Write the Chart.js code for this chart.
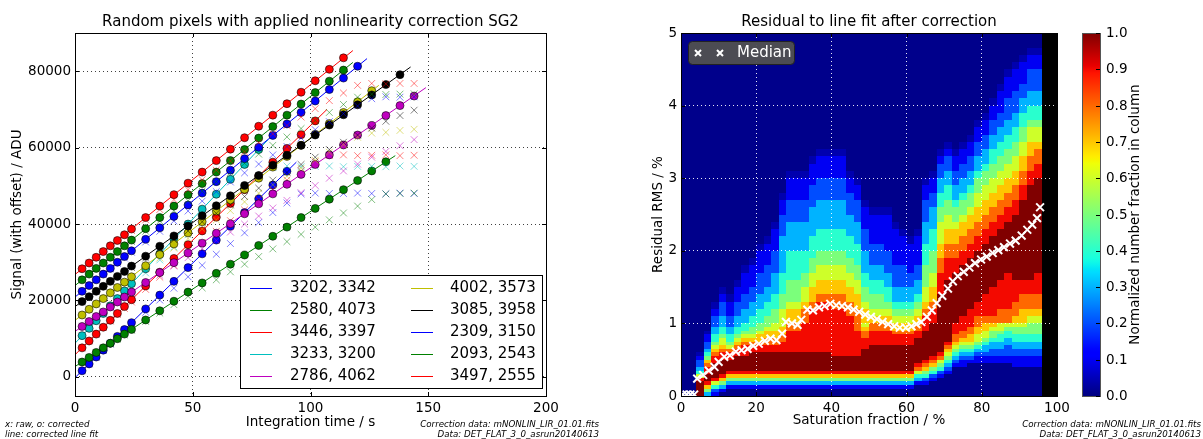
<!DOCTYPE html>
<html>
<head>
<meta charset="utf-8">
<script src="https://cdn.jsdelivr.net/npm/chart.js@4.4.1/dist/chart.umd.min.js"></script>
<style>
  html, body { margin: 0; padding: 0; background: #fff; }
  #wrap { position: relative; width: 1203px; height: 439px; }
  #left { position: absolute; left: 0; top: 0; }
  #right { position: absolute; left: 600px; top: 0; }
</style>
</head>
<body>
<div id="wrap">
  <canvas id="left" width="600" height="439"></canvas>
  <canvas id="right" width="603" height="439"></canvas>
</div>
<script>
// ---------- left panel: random pixels ----------
const times = [3, 6, 9, 12, 15, 18, 21, 24, 30, 36, 42, 48, 54, 60, 66, 72, 78, 84, 90, 96, 102, 108, 114, 120, 126, 132, 138, 144];
const pixelLabels = ['3202, 3342', '2580, 4073', '3446, 3397', '3233, 3200', '2786, 4062',
                     '4002, 3573', '3085, 3958', '2309, 3150', '2093, 2543', '3497, 2555'];
const seriesColors = ['#0000ff', '#008000', '#ff0000', '#00bfbf', '#bf00bf',
                      '#bfbf00', '#000000', '#0000ff', '#008000', '#ff0000'];

// corrected signal (circles), one list per pixel, starting at times[0]
const corrected = [
  [1600, 3400, 5200, 7000, 8800, 10600, 12400, 14200, 17800, 21400, 25000, 28600, 32200, 35800, 39400, 43000, 46600, 50200, 53800],
  [3900, 5100, 6400, 7600, 8800, 10000, 11200, 12400, 14900, 17300, 19800, 22200, 24600, 27100, 29500, 31900, 34400, 36800, 39200, 41700, 44100, 46500, 49000, 51400, 53900, 56300],
  [7600, 9400, 11200, 13000, 14800, 16600, 18400, 20200, 23800, 27400, 31000, 34600, 38200, 41800, 45400, 49000, 52600, 56200, 59800, 63400, 67000],
  [10800, 12700, 14700, 16600, 18600, 20500, 22500, 24400, 28300, 32200, 36100, 40000, 43900, 47800, 51700, 55600, 59500],
  [13200, 14500, 15800, 17000, 18300, 19600, 20900, 22200, 24700, 27300, 29900, 32400, 35000, 37600, 40100, 42700, 45300, 47900, 50400, 53000, 55600, 58100, 60700, 63300, 65800, 68400, 71000, 73500],
  [16200, 17700, 19100, 20500, 22000, 23400, 24800, 26200, 29100, 32000, 34800, 37700, 40600, 43400, 46300, 49100, 52000, 54900, 57700, 60600, 63500, 66300, 69200, 72000, 74900],
  [19700, 21000, 22400, 23700, 25000, 26300, 27600, 29000, 31600, 34200, 36900, 39500, 42200, 44800, 47400, 50100, 52700, 55400, 58000, 60600, 63300, 65900, 68600, 71200, 73800, 76500, 79100],
  [22400, 23900, 25400, 26900, 28400, 30000, 31500, 33000, 36000, 39000, 42000, 45000, 48100, 51100, 54100, 57100, 60100, 63200, 66200, 69200, 72200, 75200, 78200, 81300],
  [25400, 26900, 28400, 29800, 31300, 32800, 34300, 35800, 38800, 41700, 44700, 47700, 50600, 53600, 56600, 59500, 62500, 65500, 68500, 71400, 74400, 77400, 80300],
  [28300, 29800, 31300, 32800, 34300, 35700, 37200, 38700, 41700, 44700, 47700, 50700, 53600, 56600, 59600, 62600, 65600, 68500, 71500, 74500, 77500, 80500, 83500]
];

// raw signal (crosses), all times
const rawSignal = [
  [1600, 3400, 5100, 6900, 8600, 10300, 11900, 13600, 16900, 20100, 23200, 26200, 29200, 32100, 34900, 37700, 40400, 43000, 45500, 47900, 48100, 48000, 48000, 48100, 48000, 47900, 48100, 48000],
  [3900, 5100, 6300, 7500, 8700, 9900, 11000, 12200, 14500, 16700, 18900, 21100, 23300, 25400, 27500, 29500, 31500, 33500, 35400, 37300, 39200, 41100, 42900, 44700, 46400, 47900, 48000, 48100],
  [7600, 9400, 11100, 12900, 14600, 16300, 17900, 19600, 22900, 26100, 29200, 32200, 35200, 38100, 40900, 43700, 46400, 49000, 51500, 53900, 56300, 58000, 58100, 57900, 58000, 58100, 57900, 58000],
  [10700, 12700, 14600, 16400, 18300, 20100, 21900, 23700, 27200, 30600, 34000, 37200, 40400, 43500, 46500, 49400, 52200, 54900, 55200, 55000, 55100, 55200, 55000, 55100, 55100, 55000, 55200, 55100],
  [13200, 14400, 15700, 17000, 18200, 19400, 20700, 21900, 24300, 26600, 29000, 31200, 33500, 35700, 37900, 40000, 42100, 44200, 46200, 48200, 50100, 52000, 53900, 55700, 57500, 59000, 60500, 62100],
  [16200, 17600, 19000, 20400, 21800, 23200, 24500, 25900, 28500, 31100, 33700, 36200, 38700, 41100, 43500, 45800, 48100, 50300, 52500, 54600, 56700, 58800, 60800, 62700, 63800, 64000, 64500, 64800],
  [19700, 21000, 22300, 23600, 24900, 26100, 27400, 28600, 31100, 33500, 35900, 38200, 40600, 42800, 45000, 47200, 49400, 51500, 53500, 55600, 57500, 59500, 61400, 63300, 65100, 66900, 68400, 69800],
  [22400, 23900, 25400, 26800, 28300, 29700, 31100, 32600, 35300, 38100, 40800, 43400, 46000, 48500, 51000, 53400, 55700, 58100, 60300, 62500, 64700, 66800, 68900, 70900, 72800, 73300, 73200, 73300],
  [25400, 26800, 28300, 29700, 31200, 32600, 34000, 35400, 38100, 40800, 43500, 46100, 48600, 51100, 53500, 55900, 58300, 60600, 62800, 65000, 67100, 69200, 71300, 73200, 74000, 73900, 74000, 74100],
  [28300, 29800, 31200, 32700, 34100, 35500, 36900, 38300, 41100, 43800, 46400, 49000, 51600, 54100, 56500, 58900, 61300, 63600, 65800, 68000, 70200, 72300, 74300, 76300, 76800, 76700, 76800, 76800]
];

// corrected line fit: value at t=0 and end point
const fitStartV = [-200, 2700, 5800, 8800, 11900, 14800, 18400, 20900, 23900, 26800];
const fitEndT   = [94, 136, 107, 82, 149, 129, 142.5, 124, 118, 118];
const fitEndV   = [56200, 57900, 70000, 62100, 75700, 76300, 81100, 83300, 82300, 85400];

const leftXTicks = [0, 50, 100, 150, 200];
const leftYTicks = [0, 20000, 40000, 60000, 80000];

// ---------- right panel: residual histogram ----------
// one string per 2 % column (0..96 %); chars are levels from the bottom up:
// '0' navy, '.' faint, '1'..'9' = 0.1..0.9, 'A' = 1.0; missing rows = '0'
// heatLow: rows of 0.05 from 0 to 1.0 ; heatHigh: rows of 0.1 from 1.0 to 5.0
const heatLow = [
  '0',
  '0',
  'AAAA9643221.',
  '3579AA99875432211.',
  '12469AAAA99876544332',
  '013579AAAA9987665443',
  '0013579AAA9986544332',
  '0013579AAAA998765443',
  '0013579AAAA999876544',
  '0013579AAAAA99876554',
  '0013579AAAAA99877655',
  '0013579AAAAA99887765',
  '0013579AAAAA99887766',
  '0013579AAAAA99988776',
  '0013579AAAAA99999988',
  '0013579AAAAA99999988',
  '0013579AAAAA99999999',
  '0013579AAAAA99999999',
  '0013579AAAAA99999999',
  '0013579AAAAA99999999',
  '0013579AAAA999999999',
  '0013579AAAA999999999',
  '0013579AAAA999999999',
  '0013579AAAA999999988',
  '0013579AAAAAA9998876',
  '0013579AAAAAAA999988',
  '0013579AAAAAAA999988',
  '0013579AAAAAAA999988',
  '0013579AAAAAAA999877',
  '0013579AAAAAAA999877',
  '0013579AAAAAAA999877',
  '000134689AAAAAAA9988',
  '0001245789AAAAAAAA99',
  '00001245789AAAAAAAAA',
  '000001245689AAAAAAAA',
  '000000123456789AAAAA',
  '00000000123456788999',
  '00000000112345678899',
  '00000000012345677889',
  '00000000011234566778',
  '00000000011233456677',
  '00000000011223345567',
  '00000000011223344566',
  '00000000011222334456',
  '00000000111223344556',
  '00000000111223344556',
  '00000000111223344555',
  '00000000111223344555'
];
const heatHigh = [
  '0',
  '0',
  '0',
  '0',
  '21.',
  '3221.',
  '211.',
  '32211.',
  '3322111.',
  '43322111.',
  '4433222111.',
  '54433222111.',
  '5544333222111.',
  '66554443333322211.',
  '77655544443333222111.',
  '77655544443333222111.',
  '88766554443333222111.',
  '9987766554443333222111.',
  '99987766554443333222111.',
  '99987766554443333222111.',
  '99887766554443333222111.',
  '99887766554443333222111.',
  '98877665544433322211.',
  '8877665544433322211.',
  '7765544333222111.',
  '765544332221111.',
  '765544332221111.',
  '765443322211111.',
  '6543322211111.',
  '654332221111.',
  '65433221111.',
  '765433221111.',
  '9876655544433322211.',
  '99877665554443332211.',
  'AAAA9998877666554433221.',
  'AAAAAA999887766554433221.',
  'AAAAAAA9988776554332211.',
  '9AAAAAAA9988776554332211.',
  '99AAAAAAA9988776554332211.',
  '899AAAAAAA99887766554332211.',
  '8999AAAAAAA99887766554332211.',
  '89999AAAAAAA998877665544332211.',
  '889999AAAAAAA9988776655443322111.',
  '8899999AAAAAAA99887766554433222111.',
  '788999AAAAAAAAA99887766554433222111.',
  '778899AAAAAAAAAAA9988776655443322111.',
  '678899AAAAAAAAAAAAA998877665443322211.',
  '6788999AAAAAAAAAAAAA99887665443322211.'
];
const heatColWidth = 2;   // % saturation per column
const lowRowHeight = 0.05, lowRows = 20;
const highFrom = 1.0, highRowHeight = 0.1, highRows = 40;
const maskFrom = 96;      // no data beyond this saturation (black)

const medianPts = [
  [0.5, 0.02], [1.5, 0.02], [2.5, 0.02], [3.5, 0.02], [4.3, 0.24], [5.9, 0.29], [7.4, 0.35], [8.9, 0.40],
  [10, 0.47], [11.5, 0.54], [13, 0.56], [14.6, 0.61], [16.1, 0.63], [17.7, 0.65], [19.2, 0.69], [20.7, 0.72],
  [22.3, 0.76], [23.8, 0.79], [25.4, 0.77], [26.9, 0.86], [27.9, 1.02], [29.5, 1.00], [31, 0.98], [32, 1.05],
  [33.6, 1.19], [35.1, 1.18], [36.7, 1.22], [38.2, 1.24], [39.7, 1.27], [41.3, 1.25], [42.8, 1.24], [44.4, 1.22],
  [45.9, 1.19], [47.4, 1.16], [49, 1.12], [50.5, 1.09], [52.1, 1.06], [53.6, 1.02], [55.1, 0.99], [56.7, 0.96],
  [58.2, 0.94], [59.8, 0.94], [61.3, 0.96], [62.6, 0.99], [63.9, 1.02], [65.4, 1.09], [66.7, 1.18], [68, 1.28],
  [69.5, 1.38], [71, 1.48], [72.3, 1.58], [73.6, 1.65], [75.2, 1.71], [76.7, 1.77], [78.2, 1.83], [79.8, 1.88],
  [81.3, 1.92], [82.9, 1.97], [84.4, 2.01], [85.9, 2.05], [87.5, 2.10], [89, 2.14], [90.6, 2.21], [92.1, 2.29],
  [93.4, 2.36], [94.7, 2.45], [95.5, 2.60]
];

const rightXTicks = [0, 20, 40, 60, 80, 100];
const rightYTicks = [0, 1, 2, 3, 4, 5];
const cbTicks = [0.0, 0.1, 0.2, 0.3, 0.4, 0.5, 0.6, 0.7, 0.8, 0.9, 1.0];

// ---------- helpers ----------
const FONT = "'DejaVu Sans', 'Liberation Sans', sans-serif";
Chart.defaults.font.family = FONT;
Chart.defaults.color = '#000';

function rgba(hex, a) {
  const n = parseInt(hex.slice(1), 16);
  return `rgba(${(n >> 16) & 255},${(n >> 8) & 255},${n & 255},${a})`;
}

// matplotlib 'jet' segment data
const JET = {
  r: [[0, 0], [0.35, 0], [0.66, 1], [0.89, 1], [1, 0.5]],
  g: [[0, 0], [0.125, 0], [0.375, 1], [0.64, 1], [0.91, 0], [1, 0]],
  b: [[0, 0.5], [0.11, 1], [0.34, 1], [0.65, 0], [1, 0]]
};
function seg(pts, v) {
  for (let i = 1; i < pts.length; i++) {
    if (v <= pts[i][0]) {
      const [x0, y0] = pts[i - 1], [x1, y1] = pts[i];
      return y0 + (y1 - y0) * (v - x0) / (x1 - x0);
    }
  }
  return pts[pts.length - 1][1];
}
function jet(v) {
  v = Math.max(0, Math.min(1, v));
  return `rgb(${Math.round(seg(JET.r, v) * 255)},${Math.round(seg(JET.g, v) * 255)},${Math.round(seg(JET.b, v) * 255)})`;
}
const LEVEL = { '0': 0.01, '.': 0.04, '1': 0.1, '2': 0.2, '3': 0.3, '4': 0.4, '5': 0.5,
                '6': 0.6, '7': 0.7, '8': 0.8, '9': 0.9, 'A': 1.0 };

function text(ctx, s, x, y, size, opts = {}) {
  ctx.save();
  ctx.font = `${opts.style || ''} ${size}px ${FONT}`;
  ctx.fillStyle = opts.color || '#000';
  ctx.textAlign = opts.align || 'center';
  ctx.textBaseline = 'middle';
  ctx.translate(x, y);
  if (opts.rot) ctx.rotate(opts.rot);
  ctx.fillText(s, 0, 0);
  ctx.restore();
}

function frameAndTicks(chart, len) {
  const { ctx, chartArea: a, scales: { x, y } } = chart;
  ctx.save();
  ctx.strokeStyle = '#000';
  ctx.lineWidth = 1;
  ctx.beginPath();
  x.ticks.forEach(t => {
    const px = Math.round(x.getPixelForValue(t.value)) + 0.5;
    ctx.moveTo(px, a.bottom); ctx.lineTo(px, a.bottom - len);
    ctx.moveTo(px, a.top); ctx.lineTo(px, a.top + len);
  });
  y.ticks.forEach(t => {
    const py = Math.round(y.getPixelForValue(t.value)) + 0.5;
    ctx.moveTo(a.left, py); ctx.lineTo(a.left + len, py);
    ctx.moveTo(a.right, py); ctx.lineTo(a.right - len, py);
  });
  ctx.stroke();
  ctx.strokeRect(Math.round(a.left) + 0.5, Math.round(a.top) + 0.5,
                 Math.round(a.right - a.left), Math.round(a.bottom - a.top));
  ctx.restore();
}

function axisOpts(ticks, fitSize, gridColor) {
  return {
    type: 'linear',
    afterBuildTicks: s => { s.ticks = ticks.map(v => ({ value: v })); },
    afterFit: s => { if (s.isHorizontal()) s.height = fitSize; else s.width = fitSize; },
    grid: { color: gridColor, lineWidth: 1, drawTicks: false },
    border: { display: false, dash: [1, 3] },
    ticks: { padding: 4, autoSkip: false, maxRotation: 0, color: '#000',
             font: { size: 13.5 }, callback: v => String(v) }
  };
}

function footnotes(ctx, right, withLeft) {
  if (withLeft) {
    text(ctx, 'x: raw, o: corrected', 5, 425, 8.7, { align: 'left', style: 'italic' });
    text(ctx, 'line: corrected line fit', 5, 434.5, 8.7, { align: 'left', style: 'italic' });
  }
  text(ctx, 'Correction data: mNONLIN_LIR_01.01.fits', right, 425, 8.7, { align: 'right', style: 'italic' });
  text(ctx, 'Data: DET_FLAT_3_0_asrun20140613', right, 434.5, 8.7, { align: 'right', style: 'italic' });
}

// ---------- left chart ----------
const leftSets = [];
pixelLabels.forEach((lab, i) => {
  const c = seriesColors[i];
  leftSets.push({
    label: lab + ' raw',
    data: times.map((t, k) => ({ x: t, y: rawSignal[i][k] })),
    pointStyle: 'crossRot', pointRadius: 4.8, borderWidth: 1,
    borderColor: rgba(c, 0.5), backgroundColor: 'transparent', showLine: false
  });
  leftSets.push({
    label: lab,
    data: [{ x: 0, y: fitStartV[i] }, { x: fitEndT[i], y: fitEndV[i] }],
    showLine: true, borderColor: c, borderWidth: 1, pointRadius: 0
  });
  leftSets.push({
    label: lab + ' corrected',
    data: corrected[i].map((v, k) => ({ x: times[k], y: v })),
    pointStyle: 'circle', pointRadius: 4, borderWidth: 0.7,
    backgroundColor: c, borderColor: 'rgba(0,0,0,0.8)', showLine: false
  });
});
leftSets.reverse(); // first dataset is painted last in Chart.js

const leftDecor = {
  id: 'leftDecor',
  afterDraw(chart) {
    const { ctx, chartArea: a } = chart;
    frameAndTicks(chart, 4);
    // legend
    ctx.save();
    ctx.fillStyle = '#fff';
    ctx.strokeStyle = '#000';
    ctx.lineWidth = 1;
    ctx.fillRect(240.5, 275.5, 302, 113);
    ctx.strokeRect(240.5, 275.5, 302, 113);
    const rows = [288, 310, 332, 354, 376];
    pixelLabels.forEach((lab, i) => {
      const col = i < 5 ? 0 : 1;
      const y = rows[i % 5];
      const lx = col ? 411 : 250;
      ctx.strokeStyle = seriesColors[i];
      ctx.beginPath(); ctx.moveTo(lx, y + 0.5); ctx.lineTo(lx + 22, y + 0.5); ctx.stroke();
      text(ctx, lab, col ? 450 : 290, y, 15, { align: 'left' });
    });
    ctx.restore();
    const cx = (a.left + a.right) / 2;
    text(ctx, 'Random pixels with applied nonlinearity correction SG2', cx, 22, 15);
    text(ctx, 'Integration time / s', cx, 422, 13.5);
    text(ctx, 'Signal (with offset) / ADU', 17, (a.top + a.bottom) / 2, 13.5, { rot: -Math.PI / 2 });
    footnotes(ctx, 599, true);
  }
};

new Chart(document.getElementById('left'), {
  type: 'scatter',
  data: { datasets: leftSets },
  options: {
    responsive: false, animation: false, events: [],
    layout: { padding: { left: 0, top: 33, right: 54, bottom: 0 } },
    plugins: { legend: { display: false }, tooltip: { enabled: false }, title: { display: false } },
    scales: {
      x: Object.assign(axisOpts(leftXTicks, 43, 'rgba(0,0,0,0.75)'), { min: 0, max: 200 }),
      y: Object.assign(axisOpts(leftYTicks, 75, 'rgba(0,0,0,0.75)'), { min: -5000, max: 90000 })
    }
  },
  plugins: [leftDecor]
});

// ---------- right chart ----------
function drawCells(ctx, x, y, cols, fromV, rowH, nRows) {
  cols.forEach((col, i) => {
    const xa = Math.round(x.getPixelForValue(i * heatColWidth));
    const xb = Math.round(x.getPixelForValue((i + 1) * heatColWidth));
    for (let r = 0; r < nRows; r++) {
      const ch = col[r] || '0';
      const ya = Math.round(y.getPixelForValue(fromV + r * rowH));
      const yb = Math.round(y.getPixelForValue(fromV + (r + 1) * rowH));
      ctx.fillStyle = jet(LEVEL[ch]);
      ctx.fillRect(xa, yb, xb - xa, ya - yb);
    }
  });
}

const heatPlugin = {
  id: 'heat',
  beforeDraw(chart) {
    const { ctx, chartArea: a, scales: { x, y } } = chart;
    ctx.save();
    drawCells(ctx, x, y, heatLow, 0, lowRowHeight, lowRows);
    drawCells(ctx, x, y, heatHigh, highFrom, highRowHeight, highRows);
    const m0 = Math.round(x.getPixelForValue(maskFrom));
    ctx.fillStyle = '#000';
    ctx.fillRect(m0, Math.round(a.top), Math.round(a.right) - m0, Math.round(a.bottom - a.top));
    ctx.restore();
  },
  afterDraw(chart) {
    const { ctx, chartArea: a } = chart;
    frameAndTicks(chart, 4);
    // median legend
    ctx.save();
    const bx = 88.5, by = 41.5, bw = 106, bh = 23, rr = 4;
    ctx.beginPath();
    ctx.moveTo(bx + rr, by); ctx.lineTo(bx + bw - rr, by); ctx.quadraticCurveTo(bx + bw, by, bx + bw, by + rr);
    ctx.lineTo(bx + bw, by + bh - rr); ctx.quadraticCurveTo(bx + bw, by + bh, bx + bw - rr, by + bh);
    ctx.lineTo(bx + rr, by + bh); ctx.quadraticCurveTo(bx, by + bh, bx, by + bh - rr);
    ctx.lineTo(bx, by + rr); ctx.quadraticCurveTo(bx, by, bx + rr, by);
    ctx.fillStyle = 'rgba(80,80,80,0.95)';
    ctx.fill();
    ctx.strokeStyle = '#222';
    ctx.lineWidth = 1;
    ctx.stroke();
    ctx.strokeStyle = '#fff';
    ctx.lineWidth = 2;
    [98, 120].forEach(mx => {
      ctx.beginPath();
      ctx.moveTo(mx - 3, 50); ctx.lineTo(mx + 3, 56);
      ctx.moveTo(mx - 3, 56); ctx.lineTo(mx + 3, 50);
      ctx.stroke();
    });
    ctx.restore();
    text(ctx, 'Median', 137, 53, 15, { align: 'left', color: '#fff' });
    // colorbar
    const cbL = 482, cbR = 500, cbT = Math.round(a.top), cbB = Math.round(a.bottom);
    const g = ctx.createLinearGradient(0, cbB, 0, cbT);
    for (let k = 0; k <= 100; k++) g.addColorStop(k / 100, jet(k / 100));
    ctx.save();
    ctx.fillStyle = g;
    ctx.fillRect(cbL, cbT, cbR - cbL, cbB - cbT);
    ctx.strokeStyle = '#555';
    ctx.lineWidth = 1;
    ctx.strokeRect(cbL + 0.5, cbT + 0.5, cbR - cbL, cbB - cbT);
    ctx.strokeStyle = '#000';
    ctx.beginPath();
    cbTicks.forEach(v => {
      const py = Math.round(cbB - v * (cbB - cbT)) + 0.5;
      ctx.moveTo(cbR, py); ctx.lineTo(cbR - 4, py);
      text(ctx, v.toFixed(1), cbR + 6, py, 13.5, { align: 'left' });
    });
    ctx.stroke();
    ctx.restore();
    text(ctx, 'Normalized number fraction in column', 535, (cbT + cbB) / 2, 13.5, { rot: -Math.PI / 2 });
    const cx = (a.left + a.right) / 2;
    text(ctx, 'Residual to line fit after correction', cx, 22, 15);
    text(ctx, 'Saturation fraction / %', cx, 420, 13.5);
    text(ctx, 'Residual RMS / %', 58, (a.top + a.bottom) / 2, 13.5, { rot: -Math.PI / 2 });
    footnotes(ctx, 601, false);
  }
};

new Chart(document.getElementById('right'), {
  type: 'scatter',
  data: {
    datasets: [{
      label: 'Median',
      data: medianPts.map(p => ({ x: p[0], y: p[1] })),
      pointStyle: 'crossRot', pointRadius: 5.5, borderWidth: 2,
      borderColor: '#fff', backgroundColor: 'transparent', showLine: false
    }]
  },
  options: {
    responsive: false, animation: false, events: [],
    layout: { padding: { left: 0, top: 33, right: 146, bottom: 0 } },
    plugins: { legend: { display: false }, tooltip: { enabled: false }, title: { display: false } },
    scales: {
      x: Object.assign(axisOpts(rightXTicks, 43, 'rgba(255,255,255,0.9)'), { min: 0, max: 100 }),
      y: Object.assign(axisOpts(rightYTicks, 81, 'rgba(255,255,255,0.9)'), { min: 0, max: 5 })
    }
  },
  plugins: [heatPlugin]
});
</script>
</body>
</html>
